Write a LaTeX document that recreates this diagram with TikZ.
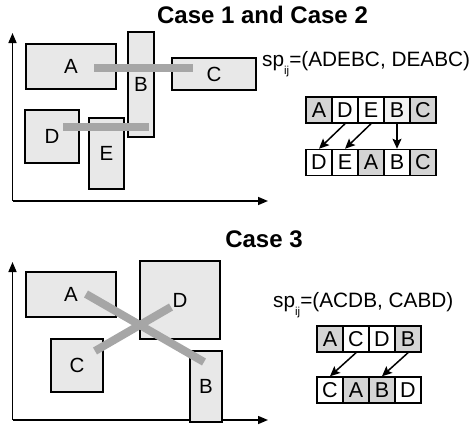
\documentclass[tikz,border=0pt]{standalone}
\usepackage{fontspec}
\setmainfont{Liberation Sans}
\usetikzlibrary{arrows.meta}
\definecolor{boxfill}{HTML}{E8E8E8}
\definecolor{cellgray}{HTML}{D4D4D4}
\definecolor{celllight}{HTML}{F2F2F2}
\definecolor{barcol}{HTML}{A6A6A6}
\tikzset{
  region/.style={draw=black, line width=1.5pt, fill=boxfill, inner sep=0pt,
    font=\fontsize{20.5}{24}\selectfont},
  cellbox/.style={draw=black, line width=1.5pt, fill=white, minimum width=26pt,
    minimum height=26pt, inner sep=0pt, font=\fontsize{21.5}{24}\selectfont},
  darkcell/.style={cellbox, fill=cellgray},
  lightcell/.style={cellbox, fill=celllight},
  bar/.style={draw=barcol, line width=8pt},
  axis/.style={line width=1.5pt, -{Triangle[length=10pt,width=8pt]}},
  move/.style={line width=1.5pt, -{Stealth[length=10pt,width=9pt,inset=2pt]}},
  title/.style={font=\fontsize{24}{28}\selectfont\bfseries, anchor=base},
  seq/.style={font=\fontsize{20.8}{24}\selectfont, anchor=base west, inner sep=0pt},
}
\newcommand{\spij}{sp\raisebox{-0.4em}{\fontsize{11.5}{11.5}\selectfont ij}}
\begin{document}
\begin{tikzpicture}[x=1pt,y=-1pt]
\useasboundingbox (0,0) rectangle (469,437);
% ---------------- Case 1 and Case 2 ----------------
\node[title] (t1) at (262.5,23) {Case 1 and Case 2};
\coordinate (o1) at (12.5,201);
\coordinate (y1) at (12.5,33);
\coordinate (x1) at (268,201);
\draw[axis] (o1) -- (y1);
\draw[axis] (o1) -- (x1);
\node[region, minimum width=90pt, minimum height=45pt] (A1) at (71,66.5) {A};
\node[region, minimum width=26pt, minimum height=105pt] (B1) at (141,84.5) {B};
\node[region, minimum width=84pt, minimum height=32pt] (C1) at (214,74) {C};
\node[region, minimum width=54pt, minimum height=53pt] (D1) at (52,136.5) {D};
\node[region, minimum width=35pt, minimum height=71pt] (E1) at (106.5,153.5) {E};
\coordinate (b1s) at (94,68);
\coordinate (b1e) at (193,68);
\coordinate (b2s) at (63,127);
\coordinate (b2e) at (149,127);
\draw[bar] (b1s) -- (b1e);
\draw[bar] (b2s) -- (b2e);
\node[seq] (sp1) at (262,66) {\spij=(ADEBC, DEABC)};
% sequence cells
\node[darkcell]  (p1) at (319,110) {A};
\node[cellbox]   (p2) at (345,110) {D};
\node[cellbox]   (p3) at (371,110) {E};
\node[lightcell] (p4) at (397,110) {B};
\node[darkcell]  (p5) at (423,110) {C};
\node[cellbox]   (q1) at (319,162.5) {D};
\node[cellbox]   (q2) at (345,162.5) {E};
\node[darkcell]  (q3) at (371,162.5) {A};
\node[cellbox]   (q4) at (397,162.5) {B};
\node[darkcell]  (q5) at (423,162.5) {C};
\draw[move] (p2.south) -- (q1.north);
\draw[move] (p3.south) -- (q2.north);
\draw[move] (p4.south) -- (q4.north);
% ---------------- Case 3 ----------------
\node[title] (t3) at (264,247) {Case 3};
\coordinate (o3) at (12.5,420);
\coordinate (y3) at (12.5,262);
\coordinate (x3) at (268,420);
\draw[axis] (o3) -- (y3);
\draw[axis] (o3) -- (x3);
\node[region, minimum width=90pt, minimum height=45pt] (A3) at (71,294.5) {A};
\node[region, minimum width=80pt, minimum height=78pt] (D3) at (180,300) {D};
\node[region, minimum width=52pt, minimum height=53pt] (C3) at (77,365.5) {C};
\node[region, minimum width=32pt, minimum height=71pt] (B3) at (206,386.5) {B};
\coordinate (c1s) at (86,294);
\coordinate (c1e) at (204,362);
\coordinate (c2s) at (95,351);
\coordinate (c2e) at (171,307);
\draw[bar] (c1s) -- (c1e);
\draw[bar] (c2s) -- (c2e);
\node[seq] (sp3) at (273,307) {\spij=(ACDB, CABD)};
\node[darkcell] (u1) at (330,339) {A};
\node[cellbox]  (u2) at (356,339) {C};
\node[cellbox]  (u3) at (382,339) {D};
\node[darkcell] (u4) at (408,339) {B};
\node[cellbox]  (v1) at (330,390) {C};
\node[darkcell] (v2) at (356,390) {A};
\node[darkcell] (v3) at (382,390) {B};
\node[cellbox]  (v4) at (408,390) {D};
\draw[move] (u2.south) -- (v1.north);
\draw[move] (u4.south) -- (v3.north);
\end{tikzpicture}
\end{document}
